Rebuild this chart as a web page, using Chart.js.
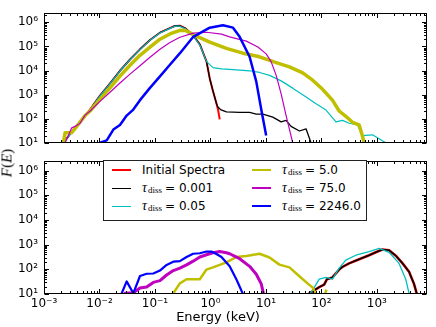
<!DOCTYPE html>
<html>
<head>
<meta charset="utf-8">
<script src="https://cdn.jsdelivr.net/npm/chart.js@4.4.1/dist/chart.umd.min.js"></script>
<style>
  body { margin: 0; background: #fff; }
  #wrap { position: relative; width: 436px; height: 327px; font-family: "DejaVu Sans", sans-serif; color: #000; }
  canvas { position: absolute; left: 0; }
  #topChart { top: 0; }
  #botChart { top: 148px; }
  #legend { position: absolute; left: 103px; top: 160px; width: 264px; height: 61px; box-sizing: border-box;
            border: 1px solid #222; background: #fff; font-size: 12px; }
  #legend .item { position: absolute; height: 18px; display: flex; align-items: center; white-space: nowrap; }
  #legend .swatch { display: inline-block; width: 19px; height: 0; margin-right: 11px; }
  #legend .tau { font: italic 14px "Liberation Serif", serif; }
  #legend sub { font: 9px "Liberation Serif", serif; position: relative; top: 1px; vertical-align: baseline; margin-left: 1px; margin-right: 3px; }
  #xTitle { position: absolute; left: 218px; top: 316px; transform: translate(-50%, -50%); font-size: 13px; white-space: nowrap; }
  #yTitle { position: absolute; left: 7px; top: 163px; transform: translate(-50%, -50%) rotate(-90deg);
            font: 15px "Liberation Serif", serif; white-space: nowrap; }
</style>
</head>
<body>
<div id="wrap">
  <canvas id="topChart" width="436" height="156"></canvas>
  <canvas id="botChart" width="436" height="179"></canvas>
  <div id="legend"></div>
  <div id="xTitle">Energy (keV)</div>
  <div id="yTitle"><i>F</i>(<i>E</i>)</div>
</div>
<script>
// axis limits and tick labels
const xMin = 1e-3, xMax = 8e3;
const yMin = 10, yMax = 2.4e6;
const xTicks = [1e-3, 1e-2, 1e-1, 1, 10, 100, 1000];
const yTicks = [10, 100, 1e3, 1e4, 1e5, 1e6];

// legend entries
const seriesNames = ['Initial Spectra', 'tau', 'tau', 'tau', 'tau', 'tau'];
const tauValues = ['', '0.001', '0.05', '5.0', '75.0', '2246.0'];
const seriesColors = ['#ff0000', '#000000', '#00bfbf', '#bfbf00', '#bf00bf', '#0000ff'];
const topWidths = [2, 1.3, 1.2, 3.5, 1.2, 2.5];
const botWidths = [2.6, 1.6, 1.3, 2.5, 3, 2.2];
const legendWidths = [2, 1, 1, 2, 2, 2];

// upper panel: [energy keV, F(E)]
const initTop = [[2.24e-3,10],[3.16e-3,28.2],[4.47e-3,75.9],[6.76e-3,240],[1.02e-2,912],[1.55e-2,2950],
  [2.34e-2,9770],[3.55e-2,28800],[5.37e-2,75900],[8.13e-2,186000],[0.123,372000],[0.186,575000],
  [0.229,708000],[0.282,724000],[0.355,562000],[0.49,288000],[0.646,120000],[0.851,23400],
  [0.971,4680],[1.11,1410],[1.28,437],[1.37,240],[1.47,93.3]];
const tau0001Top = [[2.24e-3,10],[3.16e-3,28.2],[4.47e-3,75.9],[6.76e-3,240],[1.02e-2,912],[1.55e-2,2950],
  [2.34e-2,9770],[3.55e-2,28800],[5.37e-2,75900],[8.13e-2,186000],[0.123,372000],[0.186,575000],
  [0.229,708000],[0.282,724000],[0.355,562000],[0.49,288000],[0.646,120000],[0.851,23400],
  [0.971,4680],[1.11,1410],[1.28,437],[1.35,316],[1.52,240],[1.94,191],[3.36,182],[5.08,182],
  [6.7,155],[8.81,155],[13.3,117],[18.8,74.1],[23.1,85.1],[28.4,47.9],[40.1,30.9],[52.8,38],
  [65,10],[67.6,3.16]];
const tau005Top = [[1.41e-3,10],[2.24e-3,10],[3.16e-3,26.3],[4.47e-3,72.4],[6.76e-3,234],[1.02e-2,891],
  [1.55e-2,2880],[2.34e-2,9550],[3.55e-2,28200],[5.37e-2,74100],[8.13e-2,182000],[0.123,363000],
  [0.186,562000],[0.229,692000],[0.282,692000],[0.355,537000],[0.49,282000],[0.646,112000],
  [0.851,23400],[1.11,13200],[1.58,11700],[2.22,11200],[5.08,9770],[7.67,8320],[11.6,6310],
  [18.8,3720],[30.4,1860],[53,794],[80,417],[121,229],[183,74.1],[240,85.1],[317,64.6],[447,55],
  [550,20],[832,21.4],[1445,10],[2000,5]];
const tau5Top = [[2.24e-3,10],[2.4e-3,26.3],[3.16e-3,26.3],[3.89e-3,47.9],[5.5e-3,135],[6.76e-3,209],
  [1.02e-2,631],[1.55e-2,1910],[2.34e-2,5890],[3.55e-2,16600],[5.37e-2,42700],[8.13e-2,93300],
  [0.123,200000],[0.186,331000],[0.282,468000],[0.355,457000],[0.49,309000],[0.971,151000],
  [1.94,83200],[3.85,52500],[7.67,37200],[15.3,21400],[26.5,14100],[46,7940],[69.5,3980],
  [105,1660],[158,589],[209,209],[275,126],[363,70.8],[479,55],[537,22.9],[589,10],[631,3.98]];
const tau75Top = [[1.78e-3,10],[2.4e-3,10],[2.75e-3,20],[3.16e-3,41.7],[3.63e-3,47.9],[4.47e-3,64.6],
  [5.5e-3,141],[6.76e-3,209],[1.02e-2,525],[1.55e-2,1260],[2.34e-2,3020],[3.55e-2,7080],
  [5.37e-2,15800],[8.13e-2,35500],[0.123,75900],[0.186,145000],[0.282,240000],[0.49,355000],
  [0.851,389000],[1.58,324000],[2.22,251000],[4.43,166000],[7.16,95500],[10.1,49000],[12.4,23400],
  [15.3,6310],[18.8,1070],[23.1,135],[30.4,10],[31.6,6.31]];
const tau2246Top = [[8.91e-3,5],[1.02e-2,10],[1.35e-2,12.6],[1.78e-2,35.5],[2.34e-2,55],[3.09e-2,135],
  [4.07e-2,240],[5.37e-2,589],[8.13e-2,1910],[0.123,5750],[0.186,17400],[0.282,52500],[0.49,251000],
  [0.971,603000],[1.68,759000],[2.55,603000],[3.36,251000],[5.08,37200],[6.7,3470],[8.24,240],[10.1,20]];

// lower panel
const initBot = [[50.1,5.01],[60.7,10.7],[91.6,19.1],[112,24],[126,39.8],[158,46.8],[209,97.7],[240,126],
  [316,174],[479,257],[724,372],[955,490],[1260,631],[1660,589],[2190,355],[2880,178],[3800,79.4],
  [4680,25.1],[5250,10],[5620,5.01]];
const tau0001Bot = [[50.1,5.01],[60.7,10.7],[91.6,19.1],[112,24],[126,39.8],[158,46.8],[209,97.7],[240,126],
  [316,174],[479,257],[724,372],[955,490],[1260,631],[1660,589],[2190,355],[2880,178],[3800,79.4],
  [4680,25.1],[5250,10],[5620,5.01]];
const tau005Bot = [[25.1,6.31],[28.8,10.5],[33.1,10.5],[38,5.01],[52.5,6.31],[69.2,14.1],[91.2,39.8],
  [120,46.8],[158,39.8],[209,112],[275,234],[417,372],[724,525],[1100,708],[1660,490],[2510,174],
  [3310,39.8],[3800,10.7],[3980,6.31]];
const tau5Bot = [[0.2,6.31],[0.214,10.7],[0.281,26.9],[0.371,39.8],[0.643,39.8],[0.847,97.7],[1.11,120],
  [1.94,191],[2.93,316],[4.43,347],[7.67,427],[11.6,302],[17.5,155],[26.5,120],[40.1,52.5],[58.9,24.5],
  [69.5,18.2],[77.6,10],[89.1,3.16],[100,3.16],[123,15.1]];
const tau75Bot = [[2.63e-2,6.31],[2.9e-2,10.7],[4.07e-2,11.2],[5.37e-2,17.4],[7.08e-2,19.1],[9.33e-2,29.5],
  [0.123,34.7],[0.162,58.9],[0.214,89.1],[0.281,112],[0.371,151],[0.488,214],[0.643,316],[0.847,389],
  [1.11,468],[1.47,525],[1.94,468],[2.22,427],[3.36,269],[5.08,132],[6.7,63.1],[8.24,25.7],[9.06,10],
  [9.33,6.31]];
const tau2246Bot = [[2.29e-2,6.31],[2.52e-2,10.7],[3.09e-2,32.4],[4.07e-2,10.7],[5.37e-2,53.7],[7.08e-2,66.1],
  [9.33e-2,67.6],[0.123,89.1],[0.162,151],[0.214,204],[0.281,214],[0.371,316],[0.488,427],[0.643,447],
  [0.847,525],[1.04,525],[1.28,417],[1.58,316],[2.22,132],[2.93,39.8],[3.85,10],[3.98,6.31]];

const topSeries = [initTop, tau0001Top, tau005Top, tau5Top, tau75Top, tau2246Top];
const botSeries = [initBot, tau0001Bot, tau005Bot, tau5Bot, tau75Bot, tau2246Bot];

Chart.defaults.font.family = '"DejaVu Sans", sans-serif';
Chart.defaults.color = '#000';

const supMap = {'-': '\u207B', '0': '\u2070', '1': '\u00B9', '2': '\u00B2', '3': '\u00B3',
  '4': '\u2074', '5': '\u2075', '6': '\u2076', '7': '\u2077', '8': '\u2078', '9': '\u2079'};
function powLabel(v) {
  const e = String(Math.round(Math.log10(v)));
  return '10' + e.split('').map(c => supMap[c]).join('');
}

function minorValues(min, max) {
  const out = [];
  for (let n = Math.floor(Math.log10(min)); n <= Math.ceil(Math.log10(max)); n++) {
    for (let k = 2; k <= 9; k++) {
      const v = k * Math.pow(10, n);
      if (v > min && v < max) out.push(v);
    }
  }
  return out;
}

// box round the axes with inward ticks on all four sides
const framePlugin = {
  id: 'frame',
  afterDraw(chart) {
    const { ctx, chartArea: a, scales } = chart;
    const L = Math.round(a.left) + 0.5, R = Math.round(a.right) - 0.5;
    const T = Math.round(a.top) + 0.5, B = Math.round(a.bottom) - 0.5;
    ctx.save();
    ctx.strokeStyle = '#000';
    ctx.lineWidth = 1;
    ctx.beginPath();
    const xt = (vals, len) => vals.forEach(v => {
      const p = Math.round(scales.x.getPixelForValue(v)) + 0.5;
      ctx.moveTo(p, B); ctx.lineTo(p, B - len);
      ctx.moveTo(p, T); ctx.lineTo(p, T + len);
    });
    const yt = (vals, len) => vals.forEach(v => {
      const p = Math.round(scales.y.getPixelForValue(v)) + 0.5;
      ctx.moveTo(L, p); ctx.lineTo(L + len, p);
      ctx.moveTo(R, p); ctx.lineTo(R - len, p);
    });
    xt(xTicks, 4.5); xt(minorValues(xMin, xMax), 2.5);
    yt(yTicks, 4.5); yt(minorValues(yMin, yMax), 2.5);
    ctx.stroke();
    ctx.strokeRect(L, T, R - L, B - T);
    ctx.restore();
  }
};

function makeChart(id, series, widths, showX, pad) {
  return new Chart(document.getElementById(id), {
    type: 'line',
    data: {
      datasets: series.map((pts, i) => ({
        label: i === 0 ? seriesNames[0] : '\u03C4diss = ' + tauValues[i],
        data: pts.map(p => ({ x: p[0], y: p[1] })),
        borderColor: seriesColors[i],
        backgroundColor: seriesColors[i],
        borderWidth: widths[i],
        borderJoinStyle: 'round',
        pointRadius: 0,
        tension: 0,
        fill: false,
        clip: 0,
        order: series.length - i
      }))
    },
    options: {
      responsive: false,
      animation: false,
      events: [],
      layout: { padding: pad },
      plugins: { legend: { display: false }, tooltip: { enabled: false } },
      scales: {
        x: {
          type: 'logarithmic', min: xMin, max: xMax, display: showX,
          grid: { display: false, drawTicks: false }, border: { display: false },
          afterBuildTicks: s => { s.ticks = xTicks.map(v => ({ value: v })); },
          ticks: { callback: v => powLabel(v), font: { size: 12 }, padding: 3, maxRotation: 0, autoSkip: false },
          afterFit: s => { s.height = showX ? 33 : 0; }
        },
        y: {
          type: 'logarithmic', min: yMin, max: yMax,
          grid: { display: false, drawTicks: false }, border: { display: false },
          afterBuildTicks: s => { s.ticks = yTicks.map(v => ({ value: v })); },
          ticks: { callback: v => powLabel(v), font: { size: 12 }, padding: 6, autoSkip: false },
          afterFit: s => { s.width = 44; }
        }
      }
    },
    plugins: [framePlugin]
  });
}

makeChart('topChart', topSeries, topWidths, false, { top: 6, right: 9, bottom: 10, left: 0 });
makeChart('botChart', botSeries, botWidths, true, { top: 6, right: 9, bottom: 0, left: 0 });

// legend, two columns of three
const legend = document.getElementById('legend');
seriesNames.forEach((name, i) => {
  const item = document.createElement('div');
  item.className = 'item';
  item.style.left = (i < 3 ? 8 : 148) + 'px';
  item.style.top = ((i % 3) * 18) + 'px';
  const sw = document.createElement('span');
  sw.className = 'swatch';
  sw.style.borderTop = legendWidths[i] + 'px solid ' + seriesColors[i];
  item.appendChild(sw);
  const txt = document.createElement('span');
  txt.innerHTML = i === 0 ? name : '<span class="tau">\u03C4</span><sub>diss</sub>= ' + tauValues[i];
  item.appendChild(txt);
  legend.appendChild(item);
});
</script>
</body>
</html>
